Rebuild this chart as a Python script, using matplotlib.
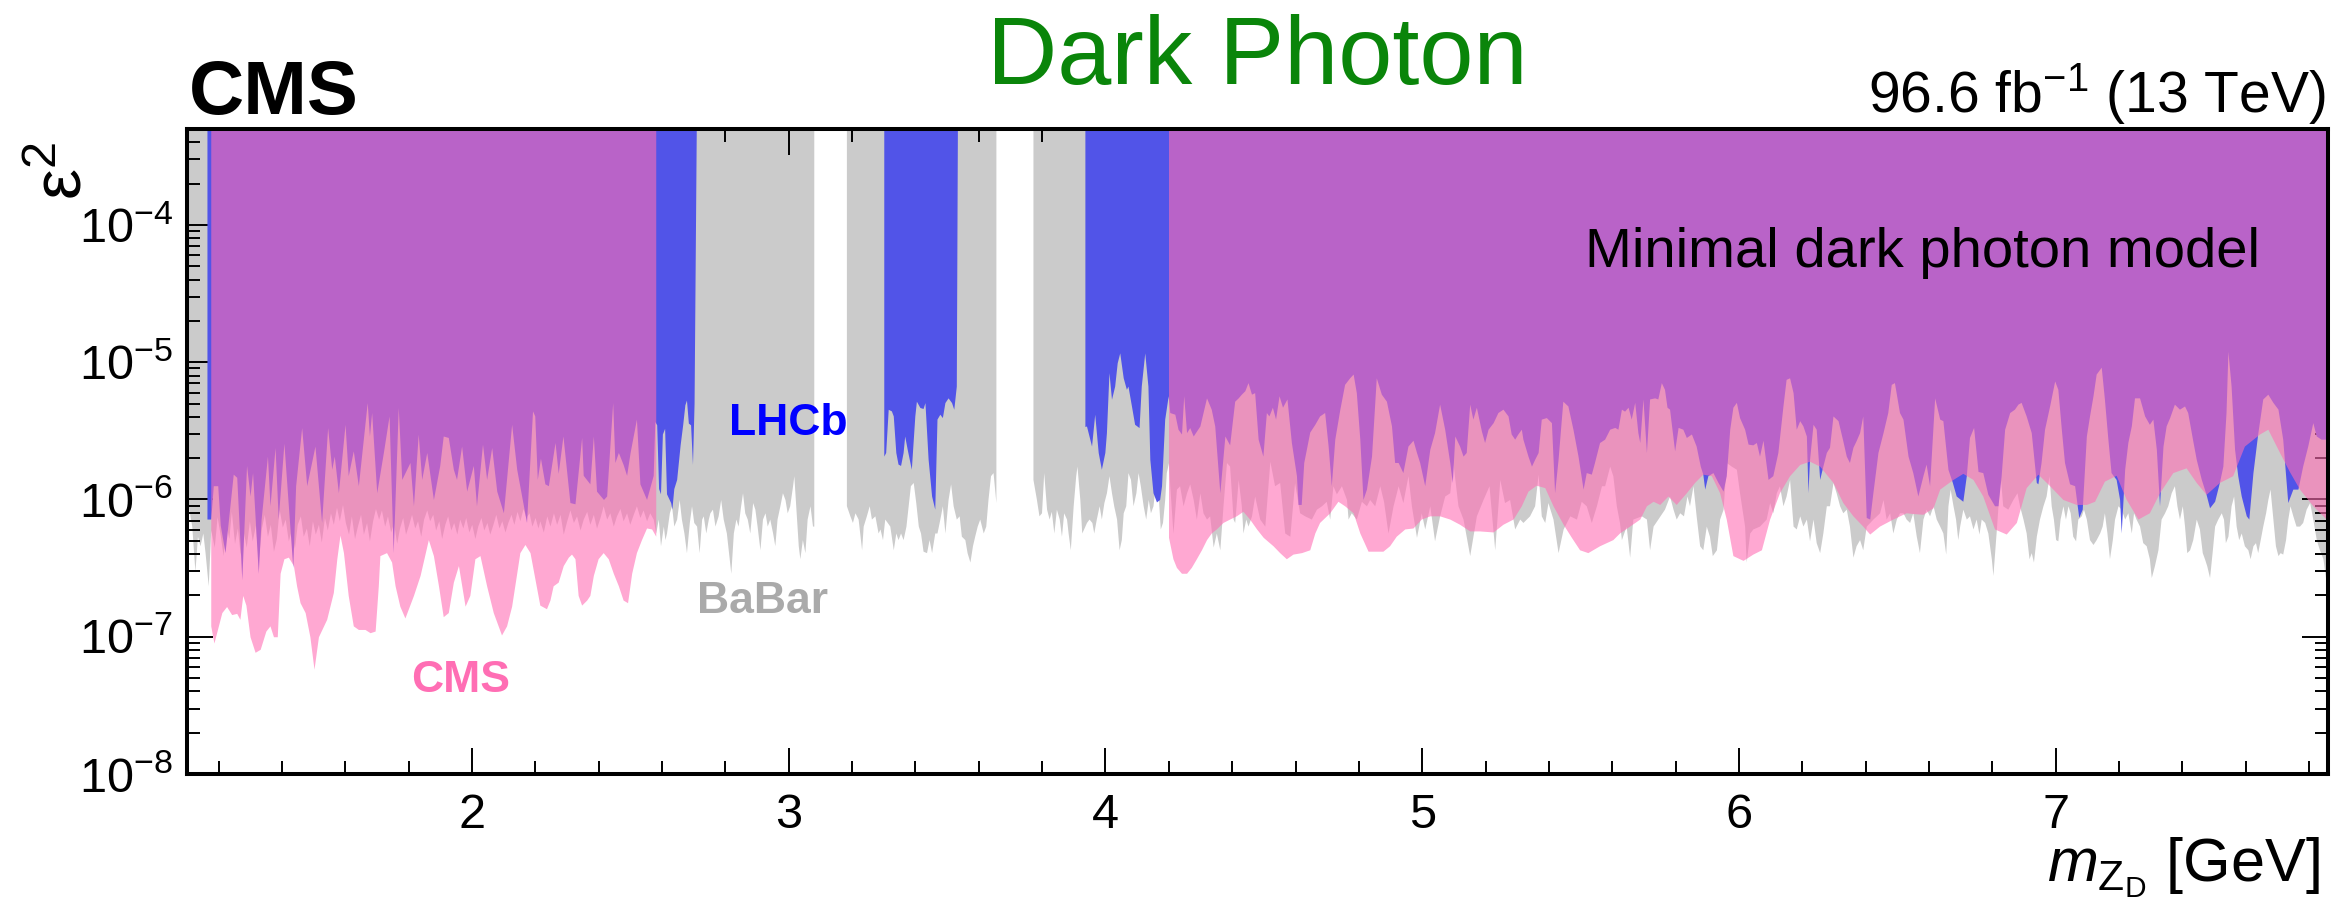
import matplotlib
matplotlib.use("Agg")
import matplotlib.pyplot as plt
from matplotlib.ticker import FixedLocator, FixedFormatter, MultipleLocator

plt.rcParams.update({
    'font.family': 'Liberation Sans',
    'mathtext.fontset': 'custom',
    'mathtext.rm': 'Liberation Sans',
    'mathtext.it': 'Liberation Sans:italic',
    'mathtext.bf': 'Liberation Sans:bold',
    'mathtext.default': 'regular',
})

# ---------------- data (lower edges of the excluded regions, eps^2) ----------------
babar_x_1 = [1.100, 1.104, 1.115, 1.125, 1.133, 1.141, 1.150, 1.157, 1.167, 1.175,
             1.186, 1.195, 1.205, 1.214, 1.222, 1.232, 1.240, 1.250, 1.259, 1.268,
             1.278, 1.287, 1.297, 1.306, 1.316, 1.325, 1.335, 1.344, 1.354, 1.363,
             1.373, 1.382, 1.391, 1.401, 1.410, 1.420, 1.429, 1.439, 1.448, 1.458,
             1.467, 1.477, 1.486, 1.496, 1.505, 1.515, 1.524, 1.534, 1.543, 1.553,
             1.562, 1.572, 1.581, 1.591, 1.600, 1.610, 1.619, 1.629, 1.638, 1.648,
             1.657, 1.667, 1.676, 1.686, 1.695, 1.705, 1.714, 1.724, 1.733, 1.743,
             1.752, 1.762, 1.771, 1.781, 1.790, 1.800, 1.809, 1.819, 1.828, 1.838,
             1.847, 1.857, 1.866, 1.876, 1.885, 1.895, 1.904, 1.914, 1.923, 1.933,
             1.942, 1.952, 1.961, 1.971, 1.980, 1.990, 1.999, 2.009, 2.018, 2.028,
             2.037, 2.047, 2.056, 2.066, 2.075, 2.085, 2.094, 2.104, 2.113, 2.123,
             2.132, 2.142, 2.151, 2.161, 2.170, 2.180, 2.189, 2.199, 2.208, 2.214,
             2.225, 2.236, 2.246, 2.257, 2.267, 2.278, 2.288, 2.299, 2.309, 2.320,
             2.330, 2.341, 2.351, 2.362, 2.372, 2.383, 2.393, 2.404, 2.414, 2.425,
             2.435, 2.446, 2.456, 2.467, 2.477, 2.488, 2.498, 2.509, 2.519, 2.530,
             2.540, 2.551, 2.561, 2.572, 2.580, 2.588, 2.595, 2.604, 2.609, 2.614,
             2.623, 2.630, 2.637, 2.646, 2.654, 2.661, 2.669, 2.677, 2.686, 2.693,
             2.700, 2.709, 2.717, 2.725, 2.730, 2.738, 2.746, 2.751, 2.759, 2.767,
             2.777, 2.785, 2.793, 2.803, 2.812, 2.817, 2.825, 2.833, 2.840, 2.848,
             2.854, 2.861, 2.869, 2.877, 2.886, 2.893, 2.900, 2.909, 2.917, 2.925,
             2.932, 2.940, 2.949, 2.956, 2.963, 2.972, 2.980, 2.988, 2.995, 3.003,
             3.012, 3.016, 3.022, 3.030, 3.035, 3.043, 3.051, 3.058, 3.067, 3.075,
             3.079]
babar_y_1 = [9.0e-7, 9.0e-7, 6.4e-7, 3.0e-7, 5.4e-7, 4.6e-7, 5.7e-7, 4.1e-7, 2.35e-7, 6.0e-7,
             4.5e-7, 7.5e-7, 5.5e-7, 3.9e-7, 6.8e-7, 5.2e-7, 8.2e-7, 4.8e-7, 6.2e-7, 4.0e-7,
             5.8e-7, 4.5e-7, 7.0e-7, 5.0e-7, 6.5e-7, 3.6e-7, 6.2e-7, 7.8e-7, 5.4e-7, 6.6e-7,
             4.2e-7, 5.2e-7, 8.5e-7, 6.3e-7, 7.2e-7, 5.0e-7, 6.0e-7, 4.4e-7, 6.6e-7, 7.6e-7,
             5.4e-7, 6.2e-7, 4.6e-7, 7.0e-7, 5.6e-7, 6.6e-7, 4.9e-7, 7.4e-7, 6.0e-7, 8.0e-7,
             6.6e-7, 8.8e-7, 7.0e-7, 9.2e-7, 6.8e-7, 5.6e-7, 7.6e-7, 5.2e-7, 6.4e-7, 7.8e-7,
             5.6e-7, 6.8e-7, 5.0e-7, 7.0e-7, 8.6e-7, 7.2e-7, 8.4e-7, 6.4e-7, 7.6e-7, 5.8e-7,
             6.8e-7, 4.8e-7, 6.2e-7, 7.4e-7, 5.6e-7, 6.6e-7, 7.8e-7, 6.2e-7, 7.0e-7, 5.4e-7,
             7.2e-7, 8.4e-7, 7.0e-7, 7.8e-7, 6.0e-7, 7.0e-7, 5.2e-7, 6.6e-7, 7.6e-7, 6.0e-7,
             6.8e-7, 5.6e-7, 7.2e-7, 6.2e-7, 7.4e-7, 5.8e-7, 6.6e-7, 5.2e-7, 6.4e-7, 7.4e-7,
             6.0e-7, 6.8e-7, 5.6e-7, 6.6e-7, 7.8e-7, 6.2e-7, 7.0e-7, 5.8e-7, 6.8e-7, 7.8e-7,
             6.6e-7, 8.2e-7, 7.0e-7, 8.6e-7, 7.4e-7, 8.0e-7, 6.4e-7, 7.4e-7, 6.2e-7, 7.0e-7,
             5.8e-7, 7.6e-7, 6.4e-7, 8.0e-7, 6.6e-7, 7.8e-7, 5.6e-7, 7.0e-7, 8.4e-7, 6.8e-7,
             7.6e-7, 6.0e-7, 7.2e-7, 8.2e-7, 6.6e-7, 7.8e-7, 6.2e-7, 7.4e-7, 9.0e-7, 7.2e-7,
             8.0e-7, 6.4e-7, 7.6e-7, 8.6e-7, 7.0e-7, 8.0e-7, 6.6e-7, 7.8e-7, 9.0e-7, 7.4e-7,
             8.4e-7, 7.0e-7, 8.0e-7, 7.2e-7, 5.7e-7, 7.2e-7, 4.6e-7, 6.4e-7, 5.1e-7, 5.7e-7,
             8.0e-7, 9.0e-7, 6.4e-7, 7.2e-7, 1.0e-6, 7.2e-7, 5.7e-7, 4.1e-7, 6.8e-7, 9.0e-7,
             6.8e-7, 6.4e-7, 4.1e-7, 7.2e-7, 7.6e-7, 5.7e-7, 7.2e-7, 8.0e-7, 8.5e-7, 6.4e-7,
             7.6e-7, 1.0e-6, 7.2e-7, 5.7e-7, 3.7e-7, 2.9e-7, 5.7e-7, 7.2e-7, 6.4e-7, 9.0e-7,
             1.12e-6, 8.0e-7, 7.2e-7, 5.7e-7, 9.5e-7, 8.5e-7, 6.4e-7, 4.3e-7, 7.2e-7, 8.0e-7,
             6.4e-7, 7.2e-7, 5.7e-7, 4.6e-7, 7.2e-7, 9.0e-7, 1.12e-6, 1.0e-6, 8.0e-7, 9.0e-7,
             1.26e-6, 1.49e-6, 9.0e-7, 4.6e-7, 3.7e-7, 5.1e-7, 4.1e-7, 7.2e-7, 9.0e-7, 6.4e-7,
             6.4e-7]

babar_x_2 = [3.182, 3.193, 3.201, 3.209, 3.219, 3.230, 3.235, 3.245, 3.254, 3.261,
             3.272, 3.282, 3.288, 3.296, 3.303, 3.311, 3.319, 3.330, 3.338, 3.345,
             3.353, 3.361, 3.370, 3.377, 3.384, 3.393, 3.401, 3.409, 3.416, 3.424,
             3.435, 3.443, 3.451, 3.461, 3.468, 3.477, 3.485, 3.493, 3.503, 3.511,
             3.519, 3.529, 3.538, 3.545, 3.556, 3.563, 3.572, 3.580, 3.587, 3.595,
             3.603, 3.614, 3.622, 3.629, 3.637, 3.645, 3.654]
babar_y_2 = [9.0e-7, 7.6e-7, 6.8e-7, 8.0e-7, 7.2e-7, 4.3e-7, 6.4e-7, 7.6e-7, 9.0e-7, 7.2e-7,
             7.6e-7, 5.7e-7, 6.1e-7, 5.1e-7, 7.2e-7, 6.8e-7, 6.4e-7, 4.3e-7, 5.7e-7, 5.1e-7,
             5.7e-7, 5.1e-7, 6.4e-7, 9.0e-7, 1.26e-6, 1.33e-6, 9.5e-7, 6.4e-7, 5.7e-7, 4.2e-7,
             4.1e-7, 5.1e-7, 4.1e-7, 5.7e-7, 5.7e-7, 7.2e-7, 9.0e-7, 5.7e-7, 1.0e-6, 1.3e-6,
             9.0e-7, 7.2e-7, 7.6e-7, 5.4e-7, 5.1e-7, 4.1e-7, 3.5e-7, 4.6e-7, 5.4e-7, 6.4e-7,
             7.2e-7, 5.7e-7, 6.4e-7, 1.0e-6, 1.49e-6, 1.57e-6, 9.5e-7]

babar_x_3 = [3.771, 3.782, 3.790, 3.798, 3.805, 3.814, 3.822, 3.829, 3.837, 3.845,
             3.854, 3.861, 3.868, 3.877, 3.882, 3.889, 3.898, 3.906, 3.910, 3.919,
             3.925, 3.931, 3.940, 3.948, 3.957, 3.963, 3.971, 3.980, 3.987, 3.995,
             4.003, 4.011, 4.019, 4.026, 4.035, 4.043, 4.050, 4.056, 4.064, 4.071,
             4.079, 4.087, 4.096, 4.103, 4.110, 4.119, 4.127, 4.135, 4.142, 4.150,
             4.159, 4.166, 4.173, 4.180, 4.187, 4.192, 4.199, 4.203, 4.213, 4.224,
             4.234, 4.245, 4.256, 4.266, 4.277, 4.287, 4.298, 4.308, 4.319, 4.329,
             4.340, 4.350, 4.361, 4.371, 4.382, 4.392, 4.403, 4.408, 4.419, 4.429,
             4.434, 4.443, 4.450, 4.461, 4.471, 4.487, 4.503, 4.519, 4.534, 4.550,
             4.566, 4.582, 4.597, 4.613, 4.629, 4.650, 4.666, 4.682, 4.697, 4.708,
             4.718, 4.729, 4.745, 4.761, 4.766, 4.776, 4.792, 4.808, 4.824, 4.834,
             4.850, 4.866, 4.878, 4.892, 4.908, 4.924, 4.939, 4.955, 4.966, 4.982,
             4.997, 5.008, 5.024, 5.039, 5.055, 5.071, 5.087, 5.097, 5.113, 5.129,
             5.150, 5.171, 5.192, 5.211, 5.229, 5.245, 5.260, 5.276, 5.292, 5.308,
             5.318, 5.339, 5.355, 5.366, 5.376, 5.387, 5.397, 5.413, 5.429, 5.445,
             5.466, 5.487, 5.502, 5.518, 5.534, 5.550, 5.566, 5.576, 5.592, 5.602,
             5.613, 5.623, 5.629, 5.644, 5.655, 5.665, 5.692, 5.708, 5.718, 5.729,
             5.744, 5.765, 5.781, 5.792, 5.802, 5.813, 5.825, 5.836, 5.844, 5.855,
             5.865, 5.876, 5.886, 5.897, 5.907, 5.916, 5.929, 5.939, 5.950, 5.960,
             5.976, 5.992, 6.002, 6.018, 6.023, 6.034, 6.044, 6.065, 6.086, 6.097,
             6.107, 6.118, 6.128, 6.139, 6.149, 6.160, 6.171, 6.181, 6.192, 6.202,
             6.213, 6.223, 6.234, 6.244, 6.255, 6.265, 6.276, 6.286, 6.297, 6.307,
             6.318, 6.328, 6.339, 6.349, 6.360, 6.370, 6.381, 6.391, 6.402, 6.413,
             6.423, 6.434, 6.444, 6.455, 6.465, 6.476, 6.486, 6.497, 6.507, 6.518,
             6.528, 6.539, 6.549, 6.560, 6.570, 6.581, 6.591, 6.602, 6.613, 6.623,
             6.634, 6.644, 6.653, 6.660, 6.667, 6.676, 6.684, 6.691, 6.697, 6.707,
             6.718, 6.728, 6.739, 6.749, 6.758, 6.765, 6.776, 6.786, 6.797, 6.802,
             6.812, 6.818, 6.825, 6.833, 6.849, 6.865, 6.878, 6.886, 6.897, 6.907,
             6.916, 6.923, 6.930, 6.939, 6.949, 6.960, 6.970, 6.979, 6.986, 6.993,
             7.000, 7.007, 7.014, 7.023, 7.031, 7.039, 7.046, 7.054, 7.063, 7.070,
             7.081, 7.088, 7.097, 7.107, 7.118, 7.128, 7.139, 7.147, 7.154, 7.162,
             7.170, 7.179, 7.186, 7.197, 7.207, 7.218, 7.228, 7.239, 7.246, 7.254,
             7.265, 7.275, 7.286, 7.296, 7.302, 7.312, 7.323, 7.333, 7.344, 7.354,
             7.365, 7.375, 7.383, 7.391, 7.400, 7.407, 7.414, 7.423, 7.433, 7.444,
             7.454, 7.463, 7.470, 7.477, 7.486, 7.494, 7.502, 7.512, 7.523, 7.530,
             7.536, 7.544, 7.554, 7.562, 7.570, 7.578, 7.586, 7.596, 7.607, 7.614,
             7.623, 7.631, 7.638, 7.646, 7.654, 7.663, 7.670, 7.677, 7.686, 7.694,
             7.702, 7.709, 7.717, 7.726, 7.733, 7.740, 7.749, 7.759, 7.770, 7.780,
             7.791, 7.802, 7.812, 7.823, 7.833, 7.844, 7.854, 7.865]
babar_y_3 = [1.4e-6, 1.0e-6, 7.6e-7, 8.0e-7, 1.57e-6, 8.5e-7, 7.2e-7, 8.2e-7, 5.7e-7, 8.5e-7,
             7.2e-7, 5.4e-7, 8.0e-7, 7.2e-7, 5.7e-7, 4.3e-7, 9.0e-7, 1.49e-6, 1.75e-6, 1.0e-6,
             5.7e-7, 6.1e-7, 6.8e-7, 7.2e-7, 6.8e-7, 5.7e-7, 7.2e-7, 9.0e-7, 7.2e-7, 9.5e-7,
             1.12e-6, 1.49e-6, 1.12e-6, 9.0e-7, 7.2e-7, 4.3e-7, 5.1e-7, 8.0e-7, 9.0e-7, 1.57e-6,
             1.4e-6, 9.0e-7, 1.12e-6, 1.57e-6, 1.26e-6, 9.0e-7, 7.2e-7, 1.0e-6, 8.0e-7, 9.0e-7,
             1.4e-6, 1.12e-6, 6.1e-7, 6.8e-7, 1.0e-6, 1.57e-6, 1.86e-6, 1.26e-6, 5.7e-7, 1.19e-6,
             1.26e-6, 9.0e-7, 1.12e-6, 1.3e-6, 1.0e-6, 7.2e-7, 1.12e-6, 8.0e-7, 7.2e-7, 7.6e-7,
             4.5e-7, 5.7e-7, 4.3e-7, 9.0e-7, 1.86e-6, 1.75e-6, 7.2e-7, 6.8e-7, 1.4e-6, 9.0e-7,
             5.7e-7, 7.2e-7, 6.4e-7, 7.6e-7, 1.06e-6, 7.2e-7, 6.4e-7, 1.9e-6, 1.26e-6, 1.33e-6,
             5.7e-7, 5.4e-7, 1.33e-6, 8.0e-7, 7.6e-7, 7.2e-7, 8.5e-7, 9.0e-7, 9.7e-7, 7.2e-7,
             1.26e-6, 1.1e-6, 1.26e-6, 1.0e-6, 7.2e-7, 8.0e-7, 7.2e-7, 9.7e-7, 9.0e-7, 1.0e-6,
             9.0e-7, 1.26e-6, 9.7e-7, 5.7e-7, 9.0e-7, 1.26e-6, 9.5e-7, 1.49e-6, 9.0e-7, 5.3e-7,
             8.0e-7, 6.1e-7, 9.0e-7, 5.0e-7, 7.6e-7, 1.06e-6, 1.12e-6, 1.86e-6, 9.0e-7, 7.2e-7,
             3.9e-7, 7.6e-7, 1.0e-6, 1.26e-6, 4.3e-7, 1.4e-6, 9.5e-7, 1.0e-6, 6.1e-7, 7.2e-7,
             6.8e-7, 7.6e-7, 9.0e-7, 1.53e-6, 7.6e-7, 6.8e-7, 9.5e-7, 7.2e-7, 4.1e-7, 6.1e-7,
             7.6e-7, 7.2e-7, 9.7e-7, 9.0e-7, 6.8e-7, 9.0e-7, 1.26e-6, 1.26e-6, 1.75e-6, 1.49e-6,
             9.0e-7, 6.8e-7, 5.1e-7, 6.4e-7, 3.8e-7, 7.2e-7, 7.6e-7, 7.2e-7, 4.3e-7, 6.4e-7,
             7.2e-7, 8.5e-7, 1.06e-6, 8.5e-7, 7.2e-7, 8.0e-7, 7.6e-7, 1.06e-6, 9.0e-7, 1.26e-6,
             7.6e-7, 4.6e-7, 4.3e-7, 6.4e-7, 5.4e-7, 3.9e-7, 4.3e-7, 7.2e-7, 8.5e-7, 1.86e-6,
             1.75e-6, 1.66e-6, 1.12e-6, 6.4e-7, 3.5e-7, 5.7e-7, 6.1e-7, 6.4e-7, 7.2e-7, 9.5e-7,
             8.0e-7, 1.12e-6, 1.26e-6, 9.0e-7, 1.06e-6, 1.4e-6, 6.4e-7, 6.1e-7, 7.6e-7, 6.4e-7,
             7.2e-7, 5.0e-7, 7.2e-7, 4.85e-7, 4.1e-7, 5.7e-7, 9.0e-7, 9.0e-7, 1.33e-6, 1.12e-6,
             9.0e-7, 8.0e-7, 8.5e-7, 6.4e-7, 3.8e-7, 4.6e-7, 5.1e-7, 4.3e-7, 6.4e-7, 6.8e-7,
             7.2e-7, 7.6e-7, 8.0e-7, 1.0e-6, 7.2e-7, 8.0e-7, 5.7e-7, 7.2e-7, 8.0e-7, 8.0e-7,
             7.2e-7, 6.8e-7, 8.0e-7, 5.4e-7, 4.1e-7, 7.2e-7, 8.5e-7, 7.6e-7, 9.0e-7, 7.2e-7,
             6.4e-7, 5.7e-7, 4.0e-7, 9.0e-7, 1.19e-6, 9.0e-7, 7.2e-7, 5.1e-7, 6.4e-7, 8.5e-7,
             7.2e-7, 7.6e-7, 6.1e-7, 7.2e-7, 5.6e-7, 7.2e-7, 6.8e-7, 5.7e-7, 3.7e-7, 2.8e-7,
             5.7e-7, 9.0e-7, 1.49e-6, 9.0e-7, 8.5e-7, 1.0e-6, 1.12e-6, 9.0e-7, 7.2e-7, 5.7e-7,
             3.7e-7, 4.1e-7, 3.5e-7, 5.4e-7, 7.2e-7, 9.0e-7, 1.06e-6, 1.49e-6, 9.0e-7, 7.2e-7,
             5.1e-7, 5.0e-7, 7.2e-7, 9.0e-7, 7.2e-7, 9.0e-7, 8.0e-7, 5.4e-7, 5.0e-7, 7.2e-7,
             7.6e-7, 8.5e-7, 7.2e-7, 5.1e-7, 4.7e-7, 5.1e-7, 5.7e-7, 6.4e-7, 8.0e-7, 5.7e-7,
             3.7e-7, 5.1e-7, 7.2e-7, 9.0e-7, 8.5e-7, 7.2e-7, 8.0e-7, 5.7e-7, 8.0e-7, 7.2e-7,
             6.4e-7, 4.85e-7, 4.6e-7, 3.7e-7, 2.7e-7, 3.3e-7, 4.3e-7, 7.2e-7, 8.0e-7, 9.0e-7,
             1.12e-6, 1.26e-6, 9.0e-7, 7.2e-7, 9.0e-7, 6.4e-7, 4.1e-7, 4.3e-7, 5.1e-7, 7.2e-7,
             6.1e-7, 4.1e-7, 3.7e-7, 3.3e-7, 2.7e-7, 4.1e-7, 6.4e-7, 7.2e-7, 8.0e-7, 7.2e-7,
             4.85e-7, 5.4e-7, 9.0e-7, 1.06e-6, 6.4e-7, 5.1e-7, 5.7e-7, 4.6e-7, 4.3e-7, 3.7e-7,
             4.6e-7, 4.85e-7, 4.1e-7, 5.1e-7, 6.4e-7, 8.0e-7, 1.0e-6, 1.19e-6, 7.2e-7, 4.6e-7,
             3.9e-7, 4.1e-7, 4.0e-7, 5.1e-7, 7.2e-7, 9.0e-7, 7.6e-7, 6.4e-7, 6.4e-7, 6.8e-7,
             8.5e-7, 9.5e-7, 7.2e-7, 5.1e-7, 4.3e-7, 3.7e-7, 2.5e-7, 2.35e-7]

lhcb_x_1 = [1.163, 1.175, 1.183, 1.197, 1.205, 1.220, 1.246, 1.257, 1.273, 1.288,
            1.299, 1.307, 1.325, 1.334, 1.354, 1.362, 1.378, 1.388, 1.406, 1.420,
            1.434, 1.443, 1.462, 1.478, 1.504, 1.525, 1.544, 1.557, 1.565, 1.578,
            1.599, 1.609, 1.625, 1.641, 1.669, 1.676, 1.683, 1.699, 1.720, 1.738,
            1.751, 1.767, 1.778, 1.804, 1.815, 1.830, 1.841, 1.857, 1.878, 1.898,
            1.909, 1.925, 1.941, 1.951, 1.967, 1.983, 2.004, 2.014, 2.033, 2.046,
            2.062, 2.078, 2.099, 2.125, 2.141, 2.172, 2.191, 2.198, 2.206, 2.216,
            2.230, 2.241, 2.262, 2.272, 2.287, 2.309, 2.325, 2.346, 2.351, 2.372,
            2.383, 2.393, 2.415, 2.425, 2.444, 2.451, 2.462, 2.477, 2.488, 2.499,
            2.519, 2.530, 2.551, 2.572, 2.577, 2.583, 2.589, 2.595, 2.601, 2.608,
            2.614, 2.627, 2.631, 2.637, 2.646, 2.657, 2.665, 2.672, 2.677, 2.683,
            2.690, 2.696, 2.701, 2.709]
lhcb_y_1 = [7.2e-7, 7.2e-7, 1.26e-6, 1.26e-6, 6.5e-7, 4.1e-7, 1.53e-6, 1.45e-6, 2.6e-7, 1.77e-6,
            1.06e-6, 1.57e-6, 2.9e-7, 7.2e-7, 2.07e-6, 9.0e-7, 2.39e-6, 7.2e-7, 2.57e-6, 9.0e-7,
            3.2e-7, 1.26e-6, 3.34e-6, 1.26e-6, 2.45e-6, 6.8e-7, 3.34e-6, 1.66e-6, 2.07e-6, 1.12e-6,
            3.53e-6, 1.49e-6, 2.26e-6, 1.26e-6, 5.08e-6, 2.9e-6, 4.3e-6, 1.12e-6, 2.2e-6, 4.06e-6,
            4.1e-7, 4.68e-6, 1.40e-6, 1.86e-6, 9.0e-7, 2.99e-6, 1.40e-6, 2.2e-6, 1.0e-6, 1.77e-6,
            2.9e-6, 2.83e-6, 1.66e-6, 1.40e-6, 2.45e-6, 1.15e-6, 1.77e-6, 9.0e-7, 2.53e-6, 1.4e-6,
            2.39e-6, 1.15e-6, 8.0e-7, 3.53e-6, 1.66e-6, 6.8e-7, 4.42e-6, 4.06e-6, 1.4e-6, 2.0e-6,
            1.3e-6, 1.26e-6, 2.6e-6, 1.55e-6, 2.9e-6, 9.5e-7, 9.3e-7, 2.83e-6, 1.5e-6, 1.3e-6,
            2.9e-6, 1.15e-6, 1.0e-6, 1.06e-6, 5.08e-6, 1.86e-6, 2.2e-6, 1.8e-6, 1.5e-6, 2.2e-6,
            3.85e-6, 1.3e-6, 1.0e-6, 1.5e-6, 3.7e-6, 3.5e-6, 1.2e-6, 1.1e-6, 3.0e-6, 3.3e-6,
            1.1e-6, 9.5e-7, 8.5e-7, 1.2e-6, 1.4e-6, 2.5e-6, 3.5e-6, 4.9e-6, 5.3e-6, 3.6e-6,
            3.5e-6, 1.8e-6, 5.0e-6, 1.0e-3]

lhcb_x_2 = [3.300, 3.306, 3.314, 3.324, 3.330, 3.338, 3.345, 3.353, 3.361, 3.366,
            3.374, 3.387, 3.398, 3.403, 3.414, 3.424, 3.430, 3.440, 3.451, 3.461,
            3.468, 3.477, 3.485, 3.493, 3.503, 3.514, 3.521, 3.529, 3.533]
lhcb_y_2 = [2.07e-6, 2.2e-6, 4.54e-6, 4.42e-6, 4.06e-6, 2.2e-6, 1.81e-6, 1.77e-6, 2.2e-6, 2.9e-6,
            2.32e-6, 1.66e-6, 4.06e-6, 5.2e-6, 4.68e-6, 4.6e-6, 5.08e-6, 1.96e-6, 1.06e-6, 8.5e-7,
            3.85e-6, 4.18e-6, 3.95e-6, 5.08e-6, 5.5e-6, 5.08e-6, 4.54e-6, 6.7e-6, 1.0e-3]

lhcb_x_3 = [3.935, 3.940, 3.956, 3.966, 3.977, 3.987, 3.998, 4.003, 4.011, 4.019,
            4.029, 4.037, 4.045, 4.056, 4.066, 4.071, 4.082, 4.092, 4.106, 4.113,
            4.124, 4.134, 4.140, 4.150, 4.161, 4.171, 4.177, 4.187, 4.198, 4.203,
            4.219, 4.229, 4.240, 4.247, 4.256, 4.266, 4.277, 4.298, 4.319, 4.334,
            4.345, 4.361, 4.377, 4.392, 4.408, 4.419, 4.429, 4.440, 4.450, 4.461,
            4.471, 4.482, 4.497, 4.508, 4.516, 4.527, 4.537, 4.548, 4.559, 4.573,
            4.587, 4.603, 4.608, 4.618, 4.626, 4.645, 4.661, 4.676, 4.692, 4.703,
            4.713, 4.724, 4.740, 4.755, 4.771, 4.782, 4.792, 4.803, 4.813, 4.824,
            4.840, 4.855, 4.871, 4.887, 4.903, 4.913, 4.924, 4.939, 4.955, 4.971,
            4.982, 4.992, 5.008, 5.024, 5.039, 5.055, 5.071, 5.087, 5.095, 5.103,
            5.118, 5.129, 5.139, 5.150, 5.160, 5.171, 5.187, 5.197, 5.208, 5.224,
            5.239, 5.255, 5.271, 5.281, 5.292, 5.302, 5.313, 5.318, 5.334, 5.345,
            5.355, 5.366, 5.376, 5.392, 5.408, 5.418, 5.429, 5.444, 5.460, 5.476,
            5.492, 5.508, 5.518, 5.534, 5.544, 5.560, 5.576, 5.592, 5.608, 5.618,
            5.629, 5.639, 5.650, 5.660, 5.671, 5.681, 5.687, 5.697, 5.708, 5.718,
            5.734, 5.744, 5.755, 5.765, 5.773, 5.781, 5.797, 5.808, 5.823, 5.834,
            5.850, 5.865, 5.878, 5.886, 5.892, 5.902, 5.918, 5.934, 5.950, 5.960,
            5.971, 5.981, 5.992, 6.002, 6.018, 6.029, 6.044, 6.055, 6.065, 6.076,
            6.092, 6.107, 6.123, 6.139, 6.149, 6.160, 6.171, 6.181, 6.192, 6.202,
            6.213, 6.218, 6.223, 6.234, 6.244, 6.255, 6.265, 6.276, 6.286, 6.297,
            6.313, 6.328, 6.339, 6.349, 6.360, 6.370, 6.381, 6.391, 6.402, 6.413,
            6.423, 6.439, 6.455, 6.470, 6.481, 6.491, 6.507, 6.518, 6.534, 6.549,
            6.565, 6.581, 6.591, 6.602, 6.618, 6.634, 6.644, 6.660, 6.674, 6.686,
            6.707, 6.718, 6.728, 6.741, 6.755, 6.770, 6.786, 6.807, 6.818, 6.828,
            6.839, 6.855, 6.870, 6.881, 6.891, 6.907, 6.923, 6.939, 6.944, 6.954,
            6.965, 6.981, 6.997, 7.007, 7.018, 7.028, 7.044, 7.060, 7.073, 7.084,
            7.097, 7.107, 7.118, 7.128, 7.144, 7.154, 7.165, 7.175, 7.191, 7.202,
            7.207, 7.218, 7.228, 7.239, 7.249, 7.265, 7.281, 7.296, 7.307, 7.318,
            7.328, 7.339, 7.349, 7.360, 7.375, 7.391, 7.407, 7.417, 7.433, 7.444,
            7.460, 7.475, 7.486, 7.502, 7.517, 7.528, 7.538, 7.544, 7.554, 7.565,
            7.575, 7.586, 7.602, 7.610, 7.623, 7.638, 7.654, 7.670, 7.686, 7.702,
            7.717, 7.733, 7.749, 7.765, 7.780, 7.796, 7.812, 7.823, 7.838, 7.865]
lhcb_y_3 = [3.4e-6, 3.43e-6, 2.45e-6, 4.18e-6, 2.2e-6, 1.66e-6, 2.2e-6, 3.07e-6, 8.4e-6, 5.37e-6,
            6.7e-6, 9.9e-6, 1.17e-5, 7.7e-6, 6.35e-6, 6.7e-6, 4.8e-6, 3.53e-6, 3.34e-6, 6.7e-6,
            1.17e-5, 6.7e-6, 1.96e-6, 1.12e-6, 9.6e-7, 1.0e-6, 1.26e-6, 3.85e-6, 5.7e-6, 4.3e-6,
            4.18e-6, 3.25e-6, 3.0e-6, 5.7e-6, 3.07e-6, 3.34e-6, 2.9e-6, 3.43e-6, 5.5e-6, 4.54e-6,
            3.43e-6, 1.12e-6, 2.9e-6, 2.5e-6, 5.2e-6, 5.5e-6, 5.85e-6, 6.2e-6, 7.1e-6, 5.85e-6,
            6.0e-6, 2.75e-6, 2.07e-6, 4.3e-6, 4.06e-6, 4.7e-6, 3.85e-6, 5.7e-6, 4.7e-6, 5.4e-6,
            2.6e-6, 1.49e-6, 9.2e-7, 9.2e-7, 1.86e-6, 3.1e-6, 3.53e-6, 4.06e-6, 4.3e-6, 2.45e-6,
            1.26e-6, 2.75e-6, 4.55e-6, 6.9e-6, 7.7e-6, 8.2e-6, 6.0e-6, 2.75e-6, 1.0e-6, 1.19e-6,
            2.07e-6, 7.7e-6, 5.85e-6, 5.2e-6, 3.44e-6, 1.86e-6, 1.86e-6, 1.57e-6, 2.45e-6, 2.7e-6,
            2.2e-6, 1.86e-6, 1.26e-6, 2.32e-6, 3.07e-6, 4.95e-6, 3.25e-6, 1.86e-6, 1.33e-6, 2.9e-6,
            2.45e-6, 2.07e-6, 2.2e-6, 4.95e-6, 3.85e-6, 4.7e-6, 3.15e-6, 2.6e-6, 3.25e-6, 3.63e-6,
            4.3e-6, 4.55e-6, 4.06e-6, 3.0e-6, 2.75e-6, 3.0e-6, 3.25e-6, 2.75e-6, 2.07e-6, 1.75e-6,
            1.96e-6, 2.2e-6, 3.85e-6, 3.95e-6, 3.63e-6, 1.12e-6, 1.96e-6, 5.2e-6, 4.8e-6, 3.25e-6,
            2.07e-6, 1.19e-6, 1.57e-6, 1.53e-6, 1.86e-6, 2.6e-6, 2.75e-6, 3.25e-6, 3.35e-6, 3.25e-6,
            4.55e-6, 4.4e-6, 4.7e-6, 3.85e-6, 5.1e-6, 3.07e-6, 2.6e-6, 5.4e-6, 2.2e-6, 5.4e-6,
            5.5e-6, 5.4e-6, 7.1e-6, 6.35e-6, 4.7e-6, 4.55e-6, 2.26e-6, 3.35e-6, 3.25e-6, 2.83e-6,
            3.0e-6, 2.45e-6, 1.75e-6, 1.53e-6, 1.19e-6, 1.49e-6, 1.57e-6, 1.33e-6, 1.15e-6, 1.49e-6,
            3.25e-6, 4.7e-6, 5.1e-6, 3.95e-6, 3.25e-6, 2.53e-6, 2.5e-6, 2.6e-6, 2.07e-6, 2.7e-6,
            1.4e-6, 1.49e-6, 2.2e-6, 4.8e-6, 7.5e-6, 7.7e-6, 6.0e-6, 3.25e-6, 3.75e-6, 3.44e-6,
            2.9e-6, 1.12e-6, 1.96e-6, 3.53e-6, 3.25e-6, 1.4e-6, 1.75e-6, 2.2e-6, 2.4e-6, 4.06e-6,
            3.75e-6, 2.68e-6, 2.07e-6, 1.86e-6, 2.4e-6, 2.68e-6, 3.07e-6, 4.06e-6, 7.4e-7, 7.2e-7,
            1.12e-6, 2.2e-6, 3.07e-6, 4.3e-6, 6.9e-6, 7.1e-6, 4.3e-6, 3.85e-6, 2.07e-6, 1.57e-6,
            1.06e-6, 1.49e-6, 1.81e-6, 1.26e-6, 5.5e-6, 3.85e-6, 3.75e-6, 1.66e-6, 1.33e-6, 1.06e-6,
            9.7e-7, 1.49e-6, 2.83e-6, 3.35e-6, 1.6e-6, 1.57e-6, 1.09e-6, 9.0e-7, 9.0e-7, 1.49e-6,
            3.25e-6, 4.3e-6, 4.55e-6, 4.95e-6, 5.1e-6, 4.06e-6, 3.07e-6, 1.33e-6, 1.3e-6, 1.86e-6,
            3.25e-6, 4.8e-6, 7.3e-6, 6.35e-6, 3.25e-6, 1.86e-6, 1.3e-6, 1.26e-6, 7.4e-7, 8.5e-7,
            2.9e-6, 4.06e-6, 5.7e-6, 8.2e-6, 9.2e-6, 5.4e-6, 2.75e-6, 1.57e-6, 1.4e-6, 1.0e-6,
            5.7e-7, 1.66e-6, 2.6e-6, 3.44e-6, 5.5e-6, 5.5e-6, 4.06e-6, 3.53e-6, 3.85e-6, 2.32e-6,
            9.0e-7, 2.45e-6, 3.44e-6, 3.95e-6, 4.95e-6, 4.55e-6, 4.8e-6, 4.3e-6, 2.68e-6, 1.96e-6,
            1.4e-6, 1.09e-6, 8.7e-7, 9.7e-7, 1.33e-6, 1.75e-6, 4.3e-6, 1.2e-5, 6.7e-6, 2.32e-6,
            1.49e-6, 1.06e-6, 7.6e-7, 7.2e-7, 1.57e-6, 3.0e-6, 5.4e-6, 5.85e-6, 5.1e-6, 4.55e-6,
            2.75e-6, 9.5e-7, 1.19e-6, 1.19e-6, 1.75e-6, 2.45e-6, 3.63e-6, 2.9e-6, 2.75e-6, 2.75e-6]

cms_x_1 = [1.175, 1.185, 1.210, 1.225, 1.241, 1.257, 1.267, 1.276, 1.286, 1.299,
           1.315, 1.331, 1.349, 1.362, 1.373, 1.385, 1.394, 1.406, 1.420, 1.436,
           1.446, 1.457, 1.473, 1.488, 1.501, 1.515, 1.541, 1.562, 1.573, 1.583,
           1.594, 1.609, 1.625, 1.641, 1.662, 1.678, 1.694, 1.704, 1.709, 1.730,
           1.746, 1.757, 1.772, 1.788, 1.815, 1.836, 1.862, 1.878, 1.894, 1.909,
           1.925, 1.941, 1.957, 1.978, 1.993, 2.009, 2.025, 2.046, 2.067, 2.093,
           2.109, 2.125, 2.141, 2.151, 2.167, 2.183, 2.199, 2.214, 2.235, 2.246,
           2.256, 2.272, 2.288, 2.304, 2.314, 2.325, 2.335, 2.346, 2.362, 2.372,
           2.383, 2.398, 2.414, 2.430, 2.446, 2.462, 2.477, 2.491, 2.504, 2.519,
           2.535, 2.551, 2.567, 2.580]
cms_y_1 = [1.2e-7, 9.0e-8, 1.5e-7, 1.66e-7, 1.45e-7, 1.48e-7, 1.34e-7, 2.0e-7, 1.7e-7, 1.0e-7,
           7.7e-8, 8.1e-8, 1.1e-7, 1.2e-7, 1.0e-7, 1.0e-7, 2.9e-7, 3.7e-7, 3.8e-7, 3.3e-7,
           2.35e-7, 1.77e-7, 1.5e-7, 1.0e-7, 5.8e-8, 1.0e-7, 1.34e-7, 2.1e-7, 3.7e-7, 5.5e-7,
           4.1e-7, 2.0e-7, 1.2e-7, 1.13e-7, 1.13e-7, 1.07e-7, 1.1e-7, 2.35e-7, 3.9e-7, 4.1e-7,
           3.5e-7, 2.35e-7, 1.67e-7, 1.37e-7, 2.0e-7, 2.8e-7, 5.1e-7, 3.9e-7, 2.35e-7, 1.4e-7,
           1.5e-7, 2.5e-7, 3.3e-7, 1.67e-7, 2.0e-7, 3.7e-7, 3.9e-7, 2.35e-7, 1.5e-7, 1.03e-7,
           1.2e-7, 1.67e-7, 2.9e-7, 4.1e-7, 4.7e-7, 4.1e-7, 2.6e-7, 1.7e-7, 1.6e-7, 1.85e-7,
           2.35e-7, 2.5e-7, 3.3e-7, 3.8e-7, 4.0e-7, 3.7e-7, 2.0e-7, 1.7e-7, 1.85e-7, 2.0e-7,
           2.8e-7, 3.7e-7, 4.1e-7, 3.7e-7, 2.9e-7, 2.35e-7, 1.85e-7, 1.77e-7, 2.9e-7, 4.1e-7,
           5.1e-7, 6.2e-7, 6.1e-7, 5.4e-7]

cms_x_2 = [4.199, 4.213, 4.224, 4.240, 4.256, 4.271, 4.287, 4.303, 4.319, 4.334,
           4.350, 4.371, 4.392, 4.413, 4.434, 4.455, 4.477, 4.498, 4.529, 4.550,
           4.571, 4.592, 4.619, 4.645, 4.661, 4.676, 4.708, 4.734, 4.755, 4.782,
           4.803, 4.829, 4.876, 4.897, 4.918, 4.945, 4.971, 4.997, 5.024, 5.055,
           5.087, 5.118, 5.150, 5.181, 5.224, 5.255, 5.287, 5.313, 5.334, 5.360,
           5.387, 5.413, 5.445, 5.471, 5.497, 5.523, 5.560, 5.602, 5.623, 5.655,
           5.687, 5.708, 5.729, 5.750, 5.776, 5.802, 5.834, 5.860, 5.886, 5.913,
           5.939, 5.960, 5.981, 6.013, 6.044, 6.071, 6.097, 6.128, 6.160, 6.192,
           6.223, 6.255, 6.297, 6.328, 6.360, 6.391, 6.413, 6.444, 6.486, 6.528,
           6.549, 6.581, 6.613, 6.634, 6.676, 6.707, 6.739, 6.770, 6.807, 6.844,
           6.876, 6.907, 6.944, 6.981, 7.023, 7.065, 7.097, 7.123, 7.154, 7.191,
           7.223, 7.260, 7.296, 7.328, 7.370, 7.412, 7.444, 7.475, 7.517, 7.559,
           7.596, 7.644, 7.670, 7.707, 7.738, 7.770, 7.812, 7.865]
cms_y_2 = [5.3e-7, 3.7e-7, 3.2e-7, 2.9e-7, 2.9e-7, 3.2e-7, 3.7e-7, 4.3e-7, 5.1e-7, 5.7e-7,
           6.1e-7, 6.8e-7, 7.2e-7, 7.6e-7, 8.2e-7, 7.2e-7, 6.1e-7, 5.3e-7, 4.6e-7, 4.1e-7,
           3.7e-7, 4.0e-7, 4.1e-7, 4.3e-7, 5.7e-7, 6.8e-7, 8.0e-7, 9.7e-7, 9.0e-7, 8.0e-7,
           5.7e-7, 4.2e-7, 4.2e-7, 4.6e-7, 5.4e-7, 6.1e-7, 6.2e-7, 7.2e-7, 7.6e-7, 7.6e-7,
           7.2e-7, 6.6e-7, 5.9e-7, 5.9e-7, 5.8e-7, 6.6e-7, 7.2e-7, 9.0e-7, 1.15e-6, 1.27e-6,
           1.22e-6, 9.0e-7, 6.6e-7, 5.3e-7, 4.3e-7, 4.1e-7, 4.6e-7, 5.1e-7, 5.7e-7, 6.4e-7,
           7.2e-7, 9.0e-7, 9.7e-7, 9.2e-7, 1.06e-6, 9.2e-7, 1.12e-6, 1.33e-6, 1.53e-6, 1.49e-6,
           1.12e-6, 7.2e-7, 3.9e-7, 3.6e-7, 4.0e-7, 4.3e-7, 7.2e-7, 1.12e-6, 1.49e-6, 1.8e-6,
           1.9e-6, 1.75e-6, 1.33e-6, 9.5e-7, 7.6e-7, 6.4e-7, 5.6e-7, 6.4e-7, 7.2e-7, 8.0e-7,
           7.9e-7, 7.8e-7, 8.7e-7, 1.19e-6, 1.4e-6, 1.55e-6, 1.4e-6, 1.06e-6, 6.1e-7, 5.6e-7,
           6.8e-7, 1.22e-6, 1.53e-6, 1.26e-6, 1.0e-6, 9.2e-7, 9.2e-7, 9.7e-7, 1.36e-6, 1.5e-6,
           1.0e-6, 7.2e-7, 8.0e-7, 1.12e-6, 1.57e-6, 1.7e-6, 1.33e-6, 1.09e-6, 1.33e-6, 1.49e-6,
           2.45e-6, 3.0e-6, 3.25e-6, 2.2e-6, 1.6e-6, 1.19e-6, 9.0e-7, 6.8e-7]

x_min, x_max = 1.1, 7.86
y_min, y_max = 1e-8, 5e-4
x_major = [2, 3, 4, 5, 6, 7]
y_major = [1e-8, 1e-7, 1e-6, 1e-5, 1e-4]
y_labels = [r'$10^{-8}$', r'$10^{-7}$', r'$10^{-6}$', r'$10^{-5}$', r'$10^{-4}$']
TOP = 1e-3

# ---------------- colours ----------------
c_babar = '#cbcbcb'
c_lhcb = '#5154e8'
c_cms = '#ff6eb4'

W, H = 2331, 905
fig = plt.figure(figsize=(W / 100, H / 100), dpi=100)
ax = fig.add_axes([187 / W, 1 - 774 / H, (2328 - 187) / W, (774 - 129) / H])

for xs, ys in [(babar_x_1, babar_y_1), (babar_x_2, babar_y_2), (babar_x_3, babar_y_3)]:
    ax.fill_between(xs, ys, TOP, color=c_babar, lw=0, zorder=1)
for xs, ys in [(lhcb_x_1, lhcb_y_1), (lhcb_x_2, lhcb_y_2), (lhcb_x_3, lhcb_y_3)]:
    ax.fill_between(xs, ys, TOP, color=c_lhcb, lw=0, zorder=2)
for xs, ys in [(cms_x_1, cms_y_1), (cms_x_2, cms_y_2)]:
    ax.fill_between(xs, ys, TOP, color=c_cms, alpha=0.6, lw=0, zorder=3)

ax.set_yscale('log')
ax.set_xlim(x_min, x_max)
ax.set_ylim(y_min, y_max)
ax.xaxis.set_major_locator(FixedLocator(x_major))
ax.xaxis.set_minor_locator(MultipleLocator(0.2))
ax.yaxis.set_major_locator(FixedLocator(y_major))
ax.yaxis.set_major_formatter(FixedFormatter(y_labels))
ax.yaxis.set_minor_locator(FixedLocator([m * 10.0 ** e for e in range(-8, -3) for m in range(2, 10)]))
ax.yaxis.set_minor_formatter(FixedFormatter([''] * 40))

ax.tick_params(which='both', direction='in', top=True, right=True, width=1.4, colors='black', zorder=5)
ax.tick_params(which='major', length=19, labelsize=35)
ax.tick_params(which='minor', length=9.5)
ax.tick_params(axis='x', which='major', pad=14)
ax.tick_params(axis='y', which='major', pad=10)
for s in ax.spines.values():
    s.set_linewidth(2.9)
    s.set_zorder(6)

# ---------------- texts ----------------
def fx(px):
    return px / W

def fy(py):
    return 1 - py / H

fig.text(fx(189), fy(114), 'CMS', fontsize=55, fontweight='bold', ha='left', va='baseline')
fig.text(fx(1257), fy(84), 'Dark Photon', fontsize=70, color='#0a850a', ha='center', va='baseline')
fig.text(fx(2326), fy(112), r'96.6 fb$^{-1}$ (13 TeV)', fontsize=41, ha='right', va='baseline')
fig.text(fx(1585), fy(267), 'Minimal dark photon model', fontsize=40.5, ha='left', va='baseline', zorder=10)
fig.text(fx(729), fy(435), 'LHCb', fontsize=32, fontweight='bold', color='#0000ff', ha='left', va='baseline', zorder=10)
fig.text(fx(697), fy(613), 'BaBar', fontsize=32, fontweight='bold', color='#aaaaaa', ha='left', va='baseline', zorder=10)
fig.text(fx(411), fy(692), 'CMS', fontsize=32, fontweight='bold', color=c_cms, ha='left', va='baseline', zorder=10)
fig.text(fx(2320), fy(882), r'$\mathit{m}_{Z_{D}}$ [GeV]', fontsize=44, ha='right', va='baseline')
fig.text(fx(64), fy(142), r'$\varepsilon^{2}$', fontsize=50, rotation=90, ha='center', va='top')

fig.savefig('out.png', dpi=100)
